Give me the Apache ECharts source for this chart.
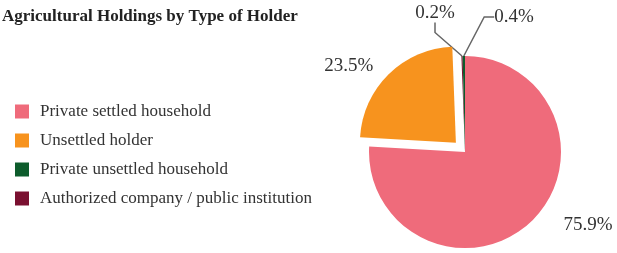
<!DOCTYPE html>
<html>
<head>
<meta charset="utf-8">
<script src="https://cdn.jsdelivr.net/npm/echarts@6/dist/echarts.min.js"></script>
<style>
  html, body { margin: 0; padding: 0; background: #fff; }
  #chart { width: 617px; height: 253px; }
</style>
</head>
<body>
<div id="chart"></div>
<script>
const categories = [
  'Private settled household',
  'Unsettled holder',
  'Private unsettled household',
  'Authorized company / public institution'
];
const shares = [75.9, 23.5, 0.4, 0.2];
const exploded = [false, true, false, false];
const colors = ['#EF6B7B', '#F7931E', '#0D5C2C', '#7A1030'];

// slice order going clockwise from 12 o'clock
const drawOrder = [0, 1, 3, 2];

// where each percentage label sits (label anchor, not the slice);
// the exploded slice keeps its own label spot, so it is steered with line lengths
const labelSpots = [[588, 225], null, [514, 17], [435, 13]];

const serif = "'Liberation Serif', 'Times New Roman', serif";

const chart = echarts.init(document.getElementById('chart'));

chart.setOption({
  animation: false,
  title: {
    text: 'Agricultural Holdings by Type of Holder',
    left: 2,
    top: 8,
    padding: 0,
    textStyle: { fontFamily: serif, fontWeight: 'bold', fontSize: 17, color: '#222' }
  },
  legend: {
    orient: 'vertical',
    left: 10,
    top: 98,
    icon: 'rect',
    itemWidth: 14,
    itemHeight: 14,
    itemGap: 12,
    selectedMode: false,
    textStyle: { fontFamily: serif, fontSize: 17, color: '#333', padding: [0, 0, 0, 6] },
    data: categories
  },
  series: [{
    type: 'pie',
    center: [465, 152],
    radius: 96,
    clockwise: true,
    startAngle: 90,
    selectedMode: 'multiple',
    selectedOffset: 13,
    avoidLabelOverlap: false,
    itemStyle: { borderWidth: 0 },
    emphasis: { disabled: true },
    label: {
      show: true,
      position: 'outside',
      formatter: p => p.value.toFixed(1) + '%',
      fontFamily: serif,
      fontSize: 19,
      color: '#333'
    },
    labelLine: { show: true, length: 10, length2: 10, lineStyle: { color: '#666', width: 1.5 } },
    labelLayout: p => {
      const spot = labelSpots[drawOrder[p.dataIndex]];
      if (!spot) return {};
      return { x: spot[0], y: spot[1], align: 'center', verticalAlign: 'middle' };
    },
    data: drawOrder.map(i => ({
      name: categories[i],
      value: shares[i],
      selected: exploded[i],
      itemStyle: { color: colors[i] },
      labelLine: shares[i] < 1 ? {} : (exploded[i] ? { show: false, length: 12, length2: 2 } : { show: false })
    }))
  }]
});
</script>
</body>
</html>
